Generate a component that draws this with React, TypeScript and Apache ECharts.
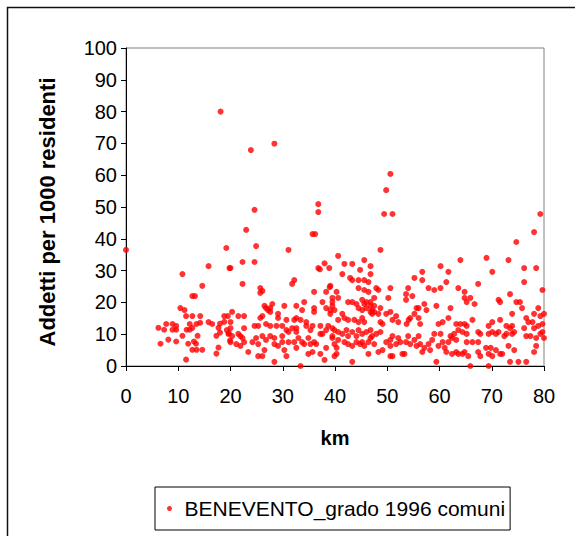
import React, { useEffect, useRef } from "react";
import * as echarts from "echarts";

const seriesName = "BENEVENTO_grado 1996 comuni";
const xAxisTitle = "km";
const yAxisTitle = "Addetti per 1000 residenti";

// [km, addetti per 1000 residenti]
const points0to20: number[][] = [
  [0, 36.5], [6.2, 12.0], [6.6, 7.0], [7.3, 11.4], [7.7, 13.2], [8.1, 8.3], [8.9, 13.2], [8.9, 11.4],
  [9.6, 12.6], [9.6, 11.4], [9.6, 7.7], [10.4, 18.2], [10.8, 28.9], [10.8, 9.5], [11.2, 17.6],
  [11.5, 15.7], [11.5, 2.0], [11.6, 11.4], [11.9, 7.0], [12.2, 13.2], [12.2, 11.4], [12.7, 22.0],
  [13.2, 22.0], [12.7, 15.7], [12.7, 12.0], [12.7, 5.1], [13.0, 7.7], [13.4, 7.0], [13.5, 13.2],
  [13.5, 5.1], [13.7, 9.5], [14.2, 15.7], [14.2, 13.6], [14.6, 25.2], [14.6, 5.1], [15.8, 31.4],
  [15.8, 13.8], [16.5, 13.2], [17.3, 9.5], [17.3, 3.9], [17.7, 12.0], [17.7, 5.8], [18.0, 13.3],
  [18.0, 10.5], [18.1, 80.0], [18.8, 15.7], [18.8, 13.9], [19.2, 37.1], [19.3, 11.3], [19.7, 10.3],
  [19.8, 30.8], [19.6, 10.1], [19.5, 15.7], [19.9, 8.0],
];

const points20to40: number[][] = [
  [20.0, 30.8], [20.0, 13.8], [20.0, 11.9], [20.0, 7.5], [20.3, 17.0], [20.3, 9.4], [21.1, 6.9],
  [21.5, 15.7], [21.5, 10.1], [21.9, 9.4], [21.9, 6.3], [22.3, 32.7], [22.3, 25.8], [22.3, 8.8],
  [22.6, 15.7], [22.6, 11.9], [22.6, 7.5], [23.0, 42.8], [23.4, 4.4], [23.9, 67.9], [24.2, 7.5],
  [24.6, 49.1], [24.6, 32.7], [24.6, 12.6], [24.9, 37.7], [24.9, 8.8], [25.3, 12.6], [25.3, 6.9],
  [25.3, 3.1], [25.7, 24.5], [25.7, 23.0], [25.7, 15.1], [26.1, 23.6], [26.1, 15.7], [26.1, 9.4],
  [26.1, 3.1], [26.5, 18.9], [26.5, 5.0], [26.8, 18.2], [26.8, 13.2], [26.8, 8.2], [27.2, 17.6],
  [27.6, 18.2], [27.6, 17.0], [27.6, 12.6], [27.6, 9.4], [28.0, 19.5], [28.4, 69.9], [28.4, 8.8],
  [28.4, 6.9], [28.4, 1.3], [28.8, 12.6], [29.1, 16.4], [29.1, 15.1], [29.1, 6.3], [29.9, 12.6],
  [29.9, 9.4], [29.9, 7.5], [30.3, 18.9], [30.3, 5.0], [30.7, 14.5], [30.7, 11.3], [30.7, 3.1],
  [31.1, 36.5], [31.1, 10.7], [31.1, 7.5], [31.8, 25.8], [31.8, 11.9], [32.2, 27.0], [32.2, 14.5],
  [32.2, 7.5], [32.6, 18.9], [32.6, 15.1], [32.6, 11.9], [32.6, 10.7], [32.6, 5.7], [33.0, 8.8],
  [33.4, 14.5], [33.4, 0.0], [33.7, 17.6], [33.7, 7.5], [34.1, 20.1], [34.1, 6.9], [34.5, 13.8],
  [34.5, 12.6], [34.9, 8.8], [34.9, 3.8], [35.3, 11.3], [35.3, 6.9], [35.7, 41.5], [35.7, 12.6],
  [35.7, 4.4], [36.0, 23.3], [36.0, 18.2], [36.0, 17.0], [36.0, 7.5], [36.2, 41.5], [36.4, 6.9],
  [36.8, 50.9], [36.8, 48.4], [36.8, 30.8], [37.1, 30.4], [37.2, 12.6], [37.2, 10.1], [37.2, 3.8],
  [37.6, 20.1], [37.6, 10.1], [38.0, 32.3], [38.0, 1.9], [38.3, 23.3], [38.3, 18.2], [38.3, 11.3],
  [38.3, 5.7], [38.7, 12.6], [38.9, 30.8], [39.1, 25.2], [39.1, 17.6], [39.5, 20.1], [39.5, 18.9],
  [39.5, 11.9], [39.5, 8.8], [39.9, 6.9], [39.5, 21.4], [39.0, 24.8], [39.5, 9.4], [39.9, 17.6],
  [39.1, 16.4], [39.9, 11.3], [39.9, 3.1],
];

const points40to60: number[][] = [
  [40.3, 23.3], [40.3, 5.7], [40.3, 3.8], [40.6, 34.6], [40.6, 21.4], [40.6, 14.5], [40.6, 10.7],
  [40.6, 8.2], [41.4, 28.9], [41.4, 16.4], [41.4, 10.1], [41.8, 32.1], [41.8, 15.1], [41.8, 7.5],
  [42.2, 11.3], [42.5, 20.1], [42.5, 14.5], [42.5, 9.4], [42.5, 6.9], [42.9, 27.7], [43.3, 32.1],
  [43.3, 27.0], [43.3, 20.1], [43.3, 10.7], [43.3, 6.3], [43.3, 1.3], [43.7, 14.5], [44.1, 19.5],
  [44.1, 9.4], [44.1, 7.5], [44.5, 27.0], [44.5, 24.5], [44.5, 18.2], [44.5, 13.8], [44.5, 11.3],
  [44.8, 30.2], [44.8, 6.9], [45.2, 20.8], [45.2, 17.6], [45.2, 15.1], [45.2, 10.1], [45.2, 7.5],
  [45.6, 33.3], [45.6, 27.0], [45.6, 23.9], [45.6, 19.5], [45.6, 13.8], [45.6, 6.3], [46.0, 20.1],
  [46.0, 18.2], [46.0, 10.7], [46.4, 26.4], [46.4, 23.3], [46.4, 7.5], [46.4, 3.8], [46.8, 31.4],
  [46.8, 28.9], [46.8, 20.1], [46.8, 18.9], [46.8, 17.0], [46.8, 11.3], [46.8, 8.8], [47.1, 17.6],
  [47.1, 16.4], [47.1, 9.4], [47.5, 21.4], [47.5, 18.9], [47.5, 17.0], [47.5, 6.9], [47.9, 24.5],
  [47.9, 10.1], [48.3, 23.9], [48.3, 16.4], [48.3, 4.4], [48.7, 36.5], [48.7, 18.2], [48.7, 13.8],
  [48.7, 10.7], [49.1, 13.2], [49.1, 5.0], [49.4, 47.8], [49.8, 55.3], [49.8, 16.4], [49.8, 7.5],
  [50.2, 21.4], [50.6, 60.4], [50.6, 24.5], [50.6, 17.0], [50.6, 8.2], [50.6, 6.3], [50.6, 3.1],
  [51.0, 47.8], [51.0, 14.5], [51.0, 9.4], [51.0, 3.1], [51.7, 15.7], [51.7, 6.9], [52.1, 13.8],
  [52.1, 8.8], [52.5, 7.5], [52.9, 3.8], [53.3, 3.8], [53.6, 22.6], [53.6, 20.8], [53.7, 13.2],
  [53.6, 7.5], [54.0, 24.5], [54.1, 14.5], [54.0, 9.4], [54.4, 15.1], [54.4, 6.9], [54.8, 22.0],
  [55.2, 27.7], [55.2, 16.4], [55.2, 8.2], [55.6, 18.2], [55.6, 6.3], [56.0, 15.1], [56.0, 18.2],
  [56.0, 9.4], [56.3, 13.2], [56.3, 6.9], [56.7, 29.6], [56.7, 27.0], [56.7, 4.4], [57.1, 19.5],
  [57.1, 5.7], [57.5, 17.6], [57.9, 24.5], [57.9, 6.9], [58.2, 5.0], [58.6, 8.2], [59.0, 23.9],
  [59.0, 10.1], [59.4, 18.9], [59.4, 1.3], [59.8, 6.3], [59.8, 13.2],
];

const points60to80: number[][] = [
  [60.2, 31.4], [60.2, 24.5], [60.2, 10.1], [60.6, 13.8], [60.6, 7.5], [61.0, 5.7], [61.3, 26.4],
  [61.3, 4.4], [61.7, 29.6], [61.7, 15.1], [61.7, 7.5], [62.1, 18.2], [62.1, 9.4], [62.4, 8.8],
  [62.4, 3.8], [62.8, 10.1], [63.2, 13.2], [63.2, 8.2], [63.2, 4.4], [63.6, 24.5], [63.6, 11.3],
  [63.6, 3.8], [64.0, 33.3], [64.0, 13.2], [64.4, 10.7], [64.4, 3.8], [64.8, 23.3], [64.8, 21.4],
  [64.8, 13.2], [64.8, 4.4], [65.2, 20.1], [65.2, 12.6], [65.2, 10.1], [65.2, 7.5], [65.5, 3.1],
  [65.9, 21.4], [65.9, 0.0], [66.3, 14.5], [66.3, 7.5], [66.7, 19.5], [67.4, 25.8], [67.4, 10.7],
  [67.4, 7.5], [67.4, 4.4], [67.8, 10.1], [67.8, 3.1], [68.9, 5.7], [69.0, 34.0], [69.4, 12.6],
  [69.4, 10.1], [69.4, 3.8], [69.4, 0.0], [69.8, 5.7], [70.1, 29.6], [70.1, 13.8], [70.1, 10.7],
  [70.1, 3.1], [70.8, 10.1], [70.8, 5.0], [71.3, 20.8], [71.3, 10.7], [71.6, 20.1], [71.6, 14.5],
  [71.6, 3.8], [72.0, 3.8], [72.4, 9.4], [72.8, 12.6], [72.8, 10.1], [73.2, 33.3], [73.2, 6.3],
  [73.5, 22.6], [73.5, 11.9], [73.5, 1.3], [73.9, 16.4], [73.9, 12.6], [73.9, 10.1], [74.3, 10.7],
  [74.3, 5.0], [74.7, 39.0], [74.7, 20.1], [75.1, 1.3], [75.4, 20.1], [75.8, 18.2], [76.2, 30.8],
  [76.2, 26.4], [76.2, 11.9], [76.6, 15.1], [76.6, 9.4], [76.6, 1.3], [77.0, 13.8], [77.4, 9.4],
  [77.8, 13.8], [78.1, 42.1], [78.1, 16.4], [78.1, 11.9], [78.1, 4.4], [78.5, 30.8], [78.5, 8.8],
  [78.5, 6.3], [78.9, 18.2], [78.9, 12.6], [79.3, 47.8], [79.3, 15.7], [79.3, 10.1], [79.7, 23.9],
  [79.7, 13.2], [79.7, 10.7], [80.0, 16.4], [80.0, 8.8],
];

const xMin = 0;
const xMax = 80;
const xStep = 10;
const yMin = 0;
const yMax = 100;
const yStep = 10;

export default function App() {
  const ref = useRef<HTMLDivElement>(null);

  useEffect(() => {
    document.body.style.margin = "0";
    if (!ref.current) return;
    const chart = echarts.init(ref.current, null, { renderer: "svg" });
    const allPoints = [...points0to20, ...points20to40, ...points40to60, ...points60to80];
    const labelFont = "Arial, 'Liberation Sans', sans-serif";

    chart.setOption({
      animation: false,
      backgroundColor: "#ffffff",
      grid: {
        left: 126,
        top: 48,
        right: 31,
        bottom: 170,
        show: true,
        borderColor: "#808080",
        borderWidth: 1,
        backgroundColor: "transparent",
      },
      xAxis: {
        type: "value",
        min: xMin,
        max: xMax,
        interval: xStep,
        axisLine: { show: true, onZero: false, lineStyle: { color: "#000", width: 1 } },
        axisTick: { show: true, length: 5, lineStyle: { color: "#000" } },
        splitLine: { show: false },
        axisLabel: { margin: 20, fontSize: 20, color: "#000", fontFamily: labelFont },
      },
      yAxis: {
        type: "value",
        min: yMin,
        max: yMax,
        interval: yStep,
        axisLine: { show: true, onZero: false, lineStyle: { color: "#000", width: 1 } },
        axisTick: { show: true, length: 5, lineStyle: { color: "#000" } },
        splitLine: { show: false },
        axisLabel: { margin: 9, fontSize: 20, color: "#000", fontFamily: labelFont },
      },
      legend: {
        data: [seriesName],
        left: 155,
        top: 487,
        orient: "horizontal",
        borderColor: "#000",
        borderWidth: 1,
        padding: [11, 5, 11, 12],
        itemWidth: 20,
        itemHeight: 5,
        icon: "circle",
        textStyle: { fontSize: 21, color: "#000", fontFamily: labelFont },
      },
      graphic: [
        {
          type: "rect",
          shape: { x: 7.5, y: 7.5, width: 600, height: 600 },
          style: { fill: "none", stroke: "#111", lineWidth: 1.5 },
          silent: true,
        },
        {
          type: "text",
          x: 47,
          y: 212,
          rotation: Math.PI / 2,
          style: {
            text: yAxisTitle,
            font: "bold 22px Arial, 'Liberation Sans', sans-serif",
            fill: "#000",
            textAlign: "center",
            textVerticalAlign: "middle",
          },
        },
        {
          type: "text",
          x: 335,
          y: 438,
          style: {
            text: xAxisTitle,
            font: "bold 20px Arial, 'Liberation Sans', sans-serif",
            fill: "#000",
            textAlign: "center",
            textVerticalAlign: "middle",
          },
        },
      ],
      series: [
        {
          name: seriesName,
          type: "scatter",
          data: allPoints,
          symbol: "circle",
          symbolSize: 6,
          itemStyle: { color: "#ff0000" },
        },
      ],
    });

    return () => {
      chart.dispose();
    };
  }, []);

  return <div ref={ref} style={{ width: 575, height: 536 }} />;
}
